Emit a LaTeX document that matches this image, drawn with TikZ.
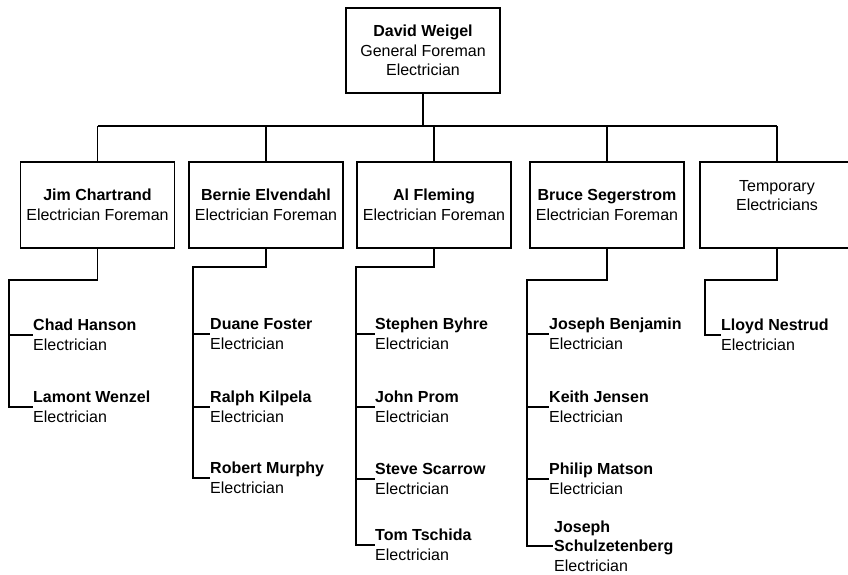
\documentclass[tikz,border=0pt]{standalone}
\usepackage{fontspec}
\setmainfont{Liberation Sans}
\begin{document}
\begin{tikzpicture}[x=1pt,y=-1pt,
  every node/.style={font=\fontsize{16}{19.5}\selectfont},
  line/.style={draw=black,line width=1.8pt},
  mgr/.style={draw=black,line width=1.8pt,minimum width=154pt,minimum height=86pt,inner sep=0pt,align=center,fill=white},
  worker/.style={anchor=west,align=left,inner sep=0pt,xshift=1pt}]
\fill[white] (0,0) rectangle (848,574);
\useasboundingbox (0,0) rectangle (848,574);
% top
\node[mgr,minimum height=85pt] (top) at (423,50.5) {\textbf{David Weigel}\\General Foreman\\Electrician};
% managers
\node[mgr] (b1) at (97.5,205) {\textbf{Jim Chartrand}\\Electrician Foreman};
\node[mgr] (b2) at (266,205) {\textbf{Bernie Elvendahl}\\Electrician Foreman};
\node[mgr] (b3) at (434,205) {\textbf{Al Fleming}\\Electrician Foreman};
\node[mgr] (b4) at (607,205) {\textbf{Bruce Segerstrom}\\Electrician Foreman};
\node[mgr] (b5) at (777,205) {};
\node[align=center,inner sep=0pt] (t5) at (777,195.5) {Temporary\\Electricians};
% bus
\coordinate (busL) at (97.5,126);
\coordinate (busR) at (777,126);
\draw[line] (busL) -- (busR);
\draw[line] (top.south) -- (top.south |- busL);
\foreach \b in {b1,b2,b3,b4,b5}{\draw[line] (\b.north) -- (\b.north |- busL);}
% elbows
\coordinate (e1) at (9,280);
\coordinate (e2) at (193,267);
\coordinate (e3) at (356,267);
\coordinate (e4) at (527,280);
\coordinate (e5) at (705,280);
% workers
\node[worker] (c11) at (32,335) {\textbf{Chad Hanson}\\Electrician};
\node[worker] (c12) at (32,407) {\textbf{Lamont Wenzel}\\Electrician};
\node[worker] (c21) at (209,334) {\textbf{Duane Foster}\\Electrician};
\node[worker] (c22) at (209,407) {\textbf{Ralph Kilpela}\\Electrician};
\node[worker] (c23) at (209,478) {\textbf{Robert Murphy}\\Electrician};
\node[worker] (c31) at (374,334) {\textbf{Stephen Byhre}\\Electrician};
\node[worker] (c32) at (374,407) {\textbf{John Prom}\\Electrician};
\node[worker] (c33) at (374,479) {\textbf{Steve Scarrow}\\Electrician};
\node[worker] (c34) at (374,545) {\textbf{Tom Tschida}\\Electrician};
\node[worker] (c41) at (548,334) {\textbf{Joseph Benjamin}\\Electrician};
\node[worker] (c42) at (548,407) {\textbf{Keith Jensen}\\Electrician};
\node[worker] (c43) at (548,479) {\textbf{Philip Matson}\\Electrician};
\node[worker,xshift=5pt] (c44) at (548,546) {\textbf{Joseph}\\\textbf{Schulzetenberg}\\Electrician};
\node[worker] (c51) at (720,335) {\textbf{Lloyd Nestrud}\\Electrician};
% connectors
\draw[line] (b1.south) -- (b1.south |- e1) -- (e1) -- (e1 |- c12.west) -- (c12.west);
\draw[line] (e1 |- c11.west) -- (c11.west);
\draw[line] (b2.south) -- (b2.south |- e2) -- (e2) -- (e2 |- c23.west) -- (c23.west);
\foreach \c in {c21,c22}{\draw[line] (e2 |- \c.west) -- (\c.west);}
\draw[line] (b3.south) -- (b3.south |- e3) -- (e3) -- (e3 |- c34.west) -- (c34.west);
\foreach \c in {c31,c32,c33}{\draw[line] (e3 |- \c.west) -- (\c.west);}
\draw[line] (b4.south) -- (b4.south |- e4) -- (e4) -- (e4 |- c44.west) -- ([xshift=-1pt]c44.west);
\foreach \c in {c41,c42,c43}{\draw[line] (e4 |- \c.west) -- (\c.west);}
\draw[line] (b5.south) -- (b5.south |- e5) -- (e5) -- (e5 |- c51.west) -- (c51.west);
\end{tikzpicture}
\end{document}
